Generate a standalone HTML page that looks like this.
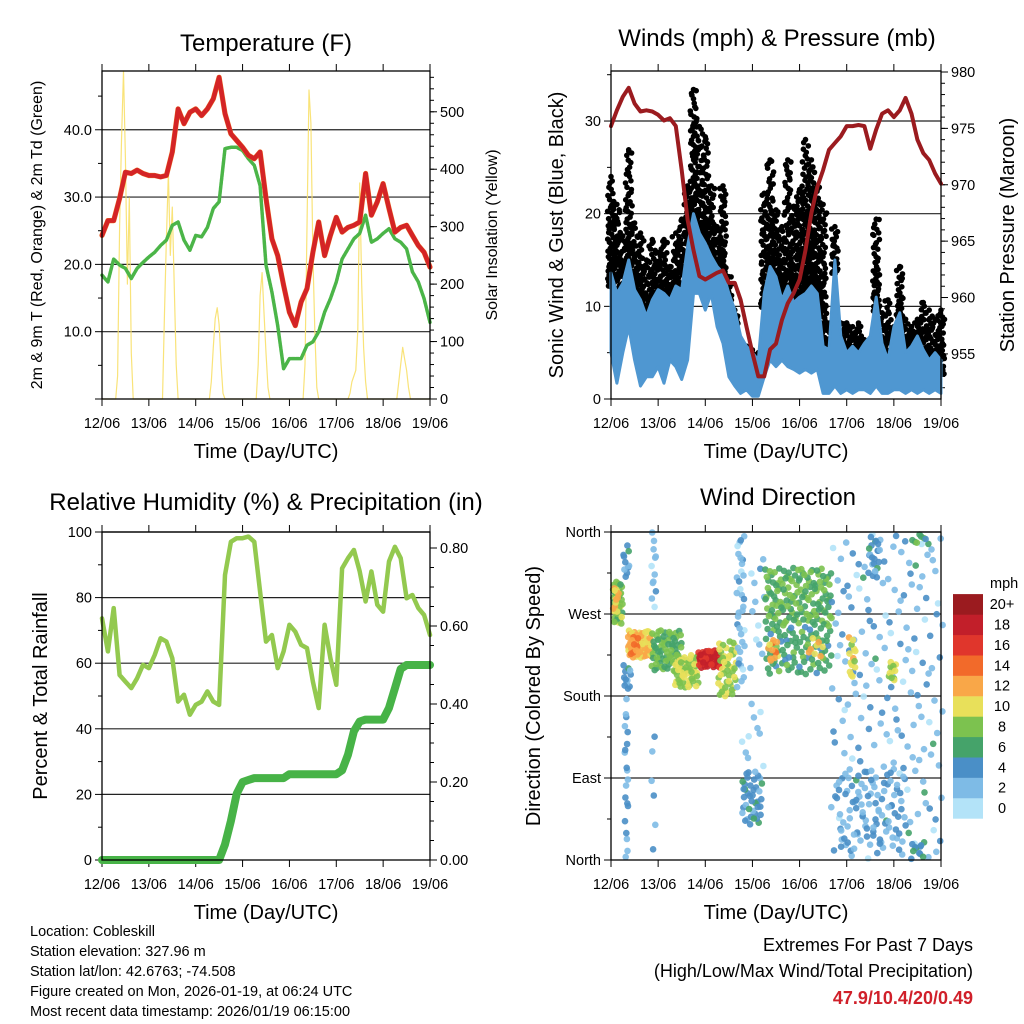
<!DOCTYPE html>
<html><head><meta charset="utf-8"><style>
html,body{margin:0;padding:0;background:#fff;}
svg{display:block;font-family:"Liberation Sans",Arial,sans-serif;}
</style></head><body>
<svg id="chart" width="1024" height="1024" viewBox="0 0 1024 1024" xmlns="http://www.w3.org/2000/svg">
<rect width="1024" height="1024" fill="#fff"/>
<g id="layer"></g>
<text x="266" y="51" font-size="24" text-anchor="middle">Temperature (F)</text>
<text x="777" y="46" font-size="24" text-anchor="middle">Winds (mph) &amp; Pressure (mb)</text>
<text x="266" y="510" font-size="24" text-anchor="middle">Relative Humidity (%) &amp; Precipitation (in)</text>
<text x="778" y="505" font-size="24" text-anchor="middle">Wind Direction</text>
<text x="266" y="458" font-size="20" text-anchor="middle">Time (Day/UTC)</text>
<text x="776" y="458" font-size="20" text-anchor="middle">Time (Day/UTC)</text>
<text x="266" y="919" font-size="20" text-anchor="middle">Time (Day/UTC)</text>
<text x="776" y="919" font-size="20" text-anchor="middle">Time (Day/UTC)</text>
<text transform="translate(42,235) rotate(-90)" font-size="16" text-anchor="middle">2m &amp; 9m T (Red, Orange) &amp; 2m Td (Green)</text>
<text transform="translate(497,235) rotate(-90)" font-size="16" text-anchor="middle">Solar Insolation (Yellow)</text>
<text transform="translate(563,235) rotate(-90)" font-size="20" text-anchor="middle">Sonic Wind &amp; Gust (Blue, Black)</text>
<text transform="translate(1014,235) rotate(-90)" font-size="20" text-anchor="middle">Station Pressure (Maroon)</text>
<text transform="translate(47,696) rotate(-90)" font-size="20" text-anchor="middle">Percent &amp; Total Rainfall</text>
<text transform="translate(540,696) rotate(-90)" font-size="20" text-anchor="middle">Direction (Colored By Speed)</text>
<g font-size="14.5">
<text x="30" y="936">Location: Cobleskill</text>
<text x="30" y="956">Station elevation: 327.96 m</text>
<text x="30" y="976">Station lat/lon: 42.6763; -74.508</text>
<text x="30" y="996">Figure created on Mon, 2026-01-19, at 06:24 UTC</text>
<text x="30" y="1016">Most recent data timestamp: 2026/01/19 06:15:00</text>
</g>
<g text-anchor="end">
<text x="973" y="951" font-size="18">Extremes For Past 7 Days</text>
<text x="973" y="977" font-size="18">(High/Low/Max Wind/Total Precipitation)</text>
<text x="973" y="1004" font-size="18" font-weight="bold" fill="#d0202a">47.9/10.4/20/0.49</text>
</g>
</svg>
<script>
const dayLabels=["12/06","13/06","14/06","15/06","16/06","17/06","18/06","19/06"];
const tempF=[24.3,26.5,26.5,29.8,33.7,33.5,34,33.5,33.2,33.2,33,33.2,36.7,43.1,40.9,42.6,43.1,42.1,43.1,44.6,47.8,42.4,39.4,38.4,37.4,36.2,35.7,36.7,29.8,23.8,21.3,16.9,12.9,10.9,14.4,16.4,21.8,26.3,21.3,24.3,27,24.8,25.5,25.8,26.3,33.5,27.3,29.3,32,28.3,24.8,25.5,25.8,24.3,22.8,21.8,19.6];
const dewF=[18.4,17.4,20.8,19.9,19.4,17.9,19.4,20.3,21.1,21.8,22.8,23.6,25.8,26.3,23.6,22.1,24.3,24.1,25.5,28.3,29.3,37.2,37.4,37.4,36.9,35.7,34.7,31.7,19.9,15.9,10.9,4.5,6,6,6,8,8.5,10,12.9,14.9,17.4,20.8,22.3,23.8,24.6,27.3,23.3,23.8,24.6,25.3,23.8,23.3,22.3,18.9,17.4,14.9,11.4];
const solar=[
0,0,0,0,0,0,0,0,40,300,450,571,420,200,350,80,0,0,0,0,0,0,0,0,
0,0,0,0,0,0,0,0,150,280,394,250,334,200,60,0,0,0,0,0,0,0,0,0,
0,0,0,0,0,0,0,0,30,90,140,159,130,60,10,0,0,0,0,0,0,0,0,0,
0,0,0,0,0,0,0,0,60,180,220,150,80,20,0,0,0,0,0,0,0,0,0,0,
0,0,0,0,0,0,0,0,60,300,538,480,250,120,20,0,0,0,0,0,0,0,0,0,
0,0,0,0,0,0,0,10,30,40,50,120,376,200,90,30,0,0,0,0,0,0,0,0,
0,0,0,0,0,0,0,0,30,60,90,70,50,20,0,0,0,0,0,0,0,0,0,0,0];
const pressure=[975.2,976.6,977.8,978.6,977.2,976.5,976.6,976.5,976.2,975.7,975.9,975.2,971.3,966.9,964.2,961.9,961.6,961.9,962.2,962.4,961.3,961.3,959.8,957.4,955.1,953.0,953.0,955.4,955.9,958,959.5,960.4,961.6,964.2,967.5,969.8,971.3,973.1,973.7,974.3,975.2,975.2,975.3,975.2,973.2,974.9,976.3,976.6,976,976.6,977.7,976.3,974,972.8,972.2,971,970.1];
const windMax=[13.6,11.4,12.5,15,11.8,10.7,8.9,10.7,11.8,11.4,10.7,12.2,11.8,16.5,20,17.9,16.8,15.4,14.3,13.6,11.4,9.6,6.8,5.7,5,4.2,11.4,14.3,13.2,10.7,12.2,10.4,11,11.4,12.2,11.4,5.7,5.3,15,6.8,5,5.7,5,6,6.8,11,6,4.2,7.8,9.3,5,5.7,6.8,5.3,4.2,5,4.2];
const windMin=[5,1.7,5,7.8,4.2,1.4,2.4,2.4,3.5,1.7,4.2,3.5,2.1,4.2,11.4,11.4,9.6,11.4,7.8,6,2.4,1.4,0.6,1,0.3,0.3,2.4,4.2,3.5,4.2,3.5,3.2,2.8,3.2,2.8,3.2,0.6,0.6,1.4,0.6,1,0.6,1,1,0.6,1.4,0.6,0.6,1,1,0.6,1,0.6,1,0.6,1,0.6];
const gustMax=[24,21,17.6,26.9,19,17.9,15,17.2,15.8,17.2,14.3,17.9,19.4,23,33.4,29.4,28.3,23,18.6,23,13.2,9.6,6,5.7,5.3,5,22.2,25.8,20.4,18.6,25.8,20.8,22.6,28,25.8,23,21,8.2,18.6,8.2,8.2,7.8,8.2,6.4,5.7,19.4,9.3,10.7,7.8,14.3,8.6,7.8,8.6,10.4,9.6,8.6,9.6];
const rhPct=[73.7,63.6,76.8,56.4,54.4,52.4,55.4,59.5,58.5,62.5,67.6,66.6,61.5,48.3,50.4,44.3,47.3,48.3,51.4,48.3,47.3,86.9,97,98.1,98.1,98.6,97,81.8,66.6,68.6,58.5,63.6,71.7,69.6,65.6,64.6,54.4,46.3,71.7,61.5,53.4,88.9,92,94.5,88,78.8,88,77.8,75.7,91,95.5,92,79.8,80.8,76.8,74.7,68.6];
const precipIn=[0,0,0,0,0,0,0,0,0,0,0,0,0,0,0,0,0,0,0,0,0,0.04,0.10,0.17,0.20,0.205,0.21,0.21,0.21,0.21,0.21,0.21,0.22,0.22,0.22,0.22,0.22,0.22,0.22,0.22,0.22,0.23,0.27,0.33,0.355,0.36,0.36,0.36,0.36,0.39,0.44,0.49,0.50,0.50,0.50,0.50,0.50];
const clHourStart=[1,1,6,8.7,10,6,7,20.6,32.5,44.5,54.6,20.6,20,64,66.6,66,70,78.5,78.5,80,100,112,112,121,141.5,115,131,153,152];
const clHourEnd=[6,4,9.5,20.6,14,10.4,8.7,36,44.5,55.5,64,23,23,68,77,78,78,112.5,112.5,85,108,169,169,124.5,145,150,137,162,160];
const clDirLow=[259,270,310,222,225,185,2,207,189,211,178,277,5,186,39,100,200,259,204,218,222,0,0,200,195,10,310,346,1];
const clDirHigh=[307,300,346,252,245,215,178,252,226,230,241,360,150,360,97,180,340,321,259,244,245,360,360,245,218,100,355,358,20];
const clSpeed=[8,11,4,11,13,4,3,7,9,17,9,2,3,2,4,1,2,7,6,12,11,2,4,10,9,3,4,6,5];
const clCount=[40,10,10,70,14,12,20,70,55,50,45,12,6,35,40,10,12,130,90,12,8,140,50,14,12,80,20,8,10];
const legendLabels=["0","2","4","6","8","10","12","14","16","18","20+"];
const speedColors=["#b3e3f8","#7ebbe6","#4a8fc7","#45a36a","#7cc24f","#e8e05a","#f9a748","#f26a2a","#e0362c","#c21f2a","#9b1b1f"];

const NS="http://www.w3.org/2000/svg";
const layer=document.getElementById('layer');
function mk(tag,attrs,parent){const e=document.createElementNS(NS,tag);for(const k in attrs)e.setAttribute(k,attrs[k]);(parent||layer).appendChild(e);return e;}
function lin(d0,d1,r0,r1){return v=>r0+(v-d0)*(r1-r0)/(d1-d0);}
const P={A:{x0:102,x1:430,y0:71,y1:399},B:{x0:611,x1:941,y0:71,y1:399},C:{x0:102,x1:430,y0:532,y1:860},D:{x0:611,x1:941,y0:532,y1:860}};
const hx={};for(const k in P)hx[k]=lin(0,168,P[k].x0,P[k].x1);
const yT=lin(0,48.73,399,71), ySol=lin(0,571,399,71);
const yW=lin(0,35.4,399,71), yP=lin(980,951,72,399);
const yRH=lin(0,100,860,532), yPr=lin(0,0.8,860,548);
const yDir=lin(0,360,860,532);
const idxH=i=>i*3;

function frame(p,name){
  const g=mk('g',{});
  
  
  for(let i=0;i<dayLabels.length;i++){
    const x=hx[p](i*24);
    mk('line',{x1:x,x2:x,y1:P[p].y1,y2:P[p].y1+7,stroke:'#000','stroke-width':1},g);
    mk('line',{x1:x,x2:x,y1:P[p].y0-7,y2:P[p].y0,stroke:'#000','stroke-width':1},g);
    const t=mk('text',{x:x,y:P[p].y1+29,'font-size':14.5,'text-anchor':'middle'},g);
    
    
    t.textContent=dayLabels[i];
  }
  return g;
}
function yaxis(g,p,scale,ticks,labels,side,minor,grid){
  const X=side==='l'?P[p].x0:P[p].x1, d=side==='l'?-1:1;
  minor.forEach(v=>{const y=scale(v);mk('line',{x1:X,x2:X+d*4,y1:y,y2:y,stroke:'#000','stroke-width':1},g);});
  ticks.forEach((v,i)=>{const y=scale(v);
    mk('line',{x1:X,x2:X+d*7,y1:y,y2:y,stroke:'#000','stroke-width':1},g);
    if(grid&&i>0&&i<ticks.length)mk('line',{x1:P[p].x0,x2:P[p].x1,y1:y,y2:y,stroke:'#222','stroke-width':1.2},g);
    const t=mk('text',{x:X+d*10,y:y+5,'font-size':14.5,'text-anchor':side==='l'?'end':'start'},g);
    
    
    t.textContent=labels[i];});
}
function border(p){const b=mk('rect',{x:P[p].x0,y:P[p].y0,width:P[p].x1-P[p].x0,height:P[p].y1-P[p].y0,fill:'none',stroke:'#000','stroke-width':1.3});
  }
function range(a,b,s){const r=[];for(let v=a;v<=b+1e-9;v+=s)r.push(+v.toFixed(4));return r;}
function poly(pts,attrs,name){const e=mk('polyline',Object.assign({points:pts.map(q=>q[0].toFixed(1)+','+q[1].toFixed(1)).join(' '),fill:'none','stroke-linejoin':'round','stroke-linecap':'round'},attrs));
  return e;}
function halton(i,b){let f=1,r=0;while(i>0){f/=b;r+=f*(i%b);i=Math.floor(i/b);}return r;}

// Panel A
let g=frame('A','temperature');
yaxis(g,'A',yT,[0,10,20,30,40],['','10.0','20.0','30.0','40.0'],'l',range(5,45,10),true);
yaxis(g,'A',ySol,[0,100,200,300,400,500],['0','100','200','300','400','500'],'r',range(20,560,20),false);
poly(solar.map((v,i)=>[hx.A(i),ySol(v)]),{stroke:'#f8e06a','stroke-width':1.2,opacity:0.9},'solar-insolation-line');
poly(dewF.map((v,i)=>[hx.A(idxH(i)),yT(v)]),{stroke:'#4bb548','stroke-width':3.5,'stroke-dasharray':'3 1.2'},'dewpoint-line');
poly(tempF.map((v,i)=>[hx.A(idxH(i)),yT(v)]),{stroke:'#f07a28','stroke-width':5.2},'temp-9m-line');
poly(tempF.map((v,i)=>[hx.A(idxH(i)),yT(v)]),{stroke:'#d42426','stroke-width':4.5},'temp-2m-line');
border('A');

// Panel B
g=frame('B','winds');
yaxis(g,'B',yW,[0,10,20,30],['0','10','20','30'],'l',range(5,35,10),true);
yaxis(g,'B',yP,[955,960,965,970,975,980],['955','960','965','970','975','980'],'r',range(952,979,1),false);
let dpath='', sd=1;
gustMax.forEach((gm,i)=>{
  const xc=hx.B(idxH(i));
  const lo=windMax[i]-1.5, span=Math.max(0.5,gm-lo);
  const n=Math.round(span*4.5)+6;
  for(let k=0;k<n;k++,sd++){
    const u=halton(sd,3);
    const v=lo+span*Math.pow(u,1.6);
    const x=xc-3.5+7*halton(sd,2);
    dpath+='M'+(x-2.8).toFixed(1)+' '+yW(v).toFixed(1)+'a2.8 2.8 0 1 0 5.6 0a2.8 2.8 0 1 0 -5.6 0';
  }
  dpath+='M'+(xc-2.8).toFixed(1)+' '+yW(gm).toFixed(1)+'a2.8 2.8 0 1 0 5.6 0a2.8 2.8 0 1 0 -5.6 0';
});
const gp=mk('path',{d:dpath,fill:'#000'});


const band=windMax.map((v,i)=>[hx.B(idxH(i)),yW(v)]).concat(windMin.map((v,i)=>[hx.B(idxH(i)),yW(v)]).reverse());
const bp=mk('polygon',{points:band.map(q=>q[0].toFixed(1)+','+q[1].toFixed(1)).join(' '),fill:'#4f97d1',stroke:'#4f97d1','stroke-width':3,'stroke-linejoin':'round'});


poly(pressure.map((v,i)=>[hx.B(idxH(i)),yP(v)]),{stroke:'#9b1b1f','stroke-width':4},'pressure-line');
border('B');

// Panel C
g=frame('C','humidity');
yaxis(g,'C',yRH,[0,20,40,60,80,100],['0','20','40','60','80','100'],'l',range(10,90,20),true);
yaxis(g,'C',yPr,[0,0.2,0.4,0.6,0.8],['0.00','0.20','0.40','0.60','0.80'],'r',range(0.05,0.8,0.05),false);
poly(rhPct.map((v,i)=>[hx.C(idxH(i)),yRH(v)]),{stroke:'#93c94f','stroke-width':4.5},'relative-humidity-line');
poly(precipIn.map((v,i)=>[hx.C(idxH(i)),yPr(v)]),{stroke:'#47b347','stroke-width':8},'precipitation-line');
border('C');

// Panel D
g=frame('D','wind-direction');
const dirT=[0,90,180,270,360], dirL=['North','East','South','West','North'];
yaxis(g,'D',yDir,dirT,dirL,'l',range(45,315,90),true);
const gd=mk('g',{});


let seed=1;
clCount.forEach((n,c)=>{
  for(let k=0;k<n;k++,seed++){
    const h=clHourStart[c]+halton(seed,2)*(clHourEnd[c]-clHourStart[c]);
    const d=clDirLow[c]+halton(seed,3)*(clDirHigh[c]-clDirLow[c]);
    const s=Math.max(0,Math.min(10,Math.round((clSpeed[c]+(halton(seed,5)-0.5)*3)/2)));
    const pt=mk('circle',{cx:hx.D(h).toFixed(1),cy:yDir(d).toFixed(1),r:3.3,fill:speedColors[s],opacity:0.9},gd);
    
    
  }
});
border('D');

// legend
const lg=mk('g',{});


const lt=mk('text',{x:990,y:588,'font-size':14.5},lg);


lt.textContent='mph';
legendLabels.forEach((l,i)=>{
  const y=818.5-(i+1)*20.4;
  const r=mk('rect',{x:953,y:y,width:30,height:20.6,fill:speedColors[i]},lg);
  
  
  const t=mk('text',{x:1002,y:y+15,'font-size':14.5,'text-anchor':'middle'},lg);
  
  
  t.textContent=l;
});
</script>
</body></html>
